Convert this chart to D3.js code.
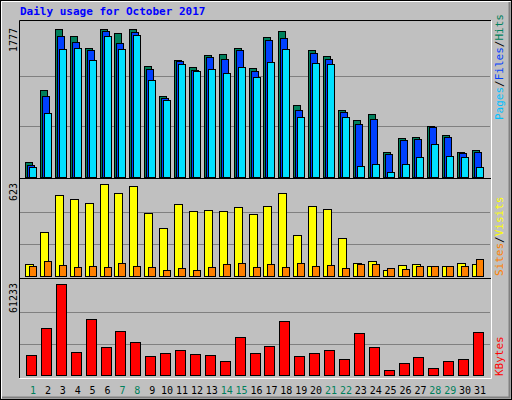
<!DOCTYPE html>
<html><head><meta charset="utf-8">
<script src="https://cdn.jsdelivr.net/npm/d3@7"></script>
<style>body{margin:0;background:#fff}text{font-family:"DejaVu Sans Mono",monospace}</style>
</head><body><svg width="512" height="400"></svg>
<script>
const days = d3.range(1, 32);
const weekends = [1, 7, 8, 14, 15, 21, 22, 28, 29];
const hits = [174,1042,1777,1692,1548,1777,1729,1777,1331,969,1403,1319,1464,1476,1548,1307,1680,1753,861,1524,1452,800,680,752,294,463,475,608,499,293,318];
const files = [137,969,1692,1620,1524,1753,1608,1741,1295,945,1391,1283,1440,1415,1524,1271,1644,1668,800,1488,1415,776,632,692,270,439,451,596,475,282,294];
const pages = [113,764,1536,1548,1403,1692,1536,1705,1162,921,1355,1271,1295,1247,1319,1198,1379,1536,716,1367,1355,716,125,150,53,150,234,391,246,234,113];
const sites = [81,298,548,521,494,623,562,609,427,325,487,440,447,440,467,420,474,562,278,474,454,257,88,102,41,74,81,68,68,88,81];
const visits = [68,102,74,61,68,61,88,68,61,41,54,41,61,81,88,61,81,61,88,68,74,54,81,81,54,47,68,68,68,68,115];
const kbytes = [13458,31626,61233,15477,37682,18841,29608,22206,12785,14804,16823,14131,13458,9421,25571,14804,19514,36337,12785,14804,16823,10766,28262,18841,3365,8075,12112,4710,9421,10766,28935];

const svg = d3.select("svg");
// frame
svg.append("rect").attr("x", 0.5).attr("y", 0.5).attr("width", 511).attr("height", 399)
  .attr("fill", "#c0c0c0").attr("stroke", "#000");
svg.append("path").attr("d", "M1.5,398.5V1.5H510.5").attr("fill", "none").attr("stroke", "#fff");
svg.append("path").attr("d", "M2,397.5H509.5V2").attr("fill", "none").attr("stroke", "#808080").attr("stroke-width", 2);
svg.append("path").attr("d", "M19.5,378V20.5H491").attr("fill", "none").attr("stroke", "#000");
svg.append("path").attr("d", "M19.5,378.5H491.5V20.5").attr("fill", "none").attr("stroke", "#fff");

svg.append("text").attr("x", 20).attr("y", 15).attr("fill", "#0000ff")
  .attr("font-size", 11).attr("font-weight", "bold").text("Daily usage for October 2017");

const x = d3.scaleLinear().domain([1, 31]).range([33, 480]);

const panels = [
  { top: 25, base: 176.7, max: 1777, sep: 178 },
  { top: 180, base: 276.3, max: 623, sep: 278 },
  { top: 280, base: 375.3, max: 61233, sep: null }
];
panels.forEach(p => {
  p.y = d3.scaleLinear().domain([0, p.max]).range([p.base, p.base - (p.base - (p.top + 4)) ]);
  const step = (p.base - p.top) / 3;
  [1, 2].forEach(k => svg.append("line").attr("x1", 20).attr("x2", 490)
    .attr("y1", Math.round(p.base - step * k) + 0.5).attr("y2", Math.round(p.base - step * k) + 0.5)
    .attr("stroke", "#808080"));
  if (p.sep) svg.append("line").attr("x1", 20).attr("x2", 491).attr("y1", p.sep + 0.5).attr("y2", p.sep + 0.5).attr("stroke", "#000");
  svg.append("text").attr("transform", `translate(17,${p.top + 3}) rotate(-90)`)
    .attr("text-anchor", "end").attr("font-size", 10).attr("fill", "#000").text(d3.format("d")(p.max));
});

function bars(data, p, dx, w, color) {
  svg.append("g").selectAll("rect").data(data).enter().append("rect")
    .attr("x", (d, i) => Math.round(x(days[i]) + dx) + 0.5)
    .attr("y", d => Math.round(p.y(d)) + 0.5)
    .attr("width", w)
    .attr("height", d => Math.max(0, Math.round(p.base) - Math.round(p.y(d))))
    .attr("fill", color).attr("stroke", "#000");
}
bars(hits, panels[0], -8, 7, "#00805c");
bars(files, panels[0], -6, 7, "#0040ff");
bars(pages, panels[0], -4, 7, "#00e0ff");
bars(sites, panels[1], -8, 8, "#ffff00");
bars(visits, panels[1], -4, 7, "#ff8000");
bars(kbytes, panels[2], -7, 10, "#ff0000");

svg.append("g").selectAll("text").data(days).enter().append("text")
  .attr("x", d => x(d)).attr("y", 394).attr("text-anchor", "middle").attr("font-size", 10)
  .attr("fill", d => weekends.includes(d) ? "#00805c" : "#000").text(d => d);

function sideLabel(yEnd, parts) {
  const t = svg.append("text").attr("transform", `translate(503,${yEnd}) rotate(-90)`)
    .attr("font-size", 11);
  parts.forEach(([s, c]) => t.append("tspan").attr("fill", c).text(s));
}
sideLabel(120, [["Pages", "#00c0ff"], ["/", "#000"], ["Files", "#0040ff"], ["/", "#000"], ["Hits", "#00805c"]]);
sideLabel(276, [["Sites", "#ff8000"], ["/", "#000"], ["Visits", "#ffff00"]]);
sideLabel(376, [["KBytes", "#ff0000"]]);
</script></body></html>
